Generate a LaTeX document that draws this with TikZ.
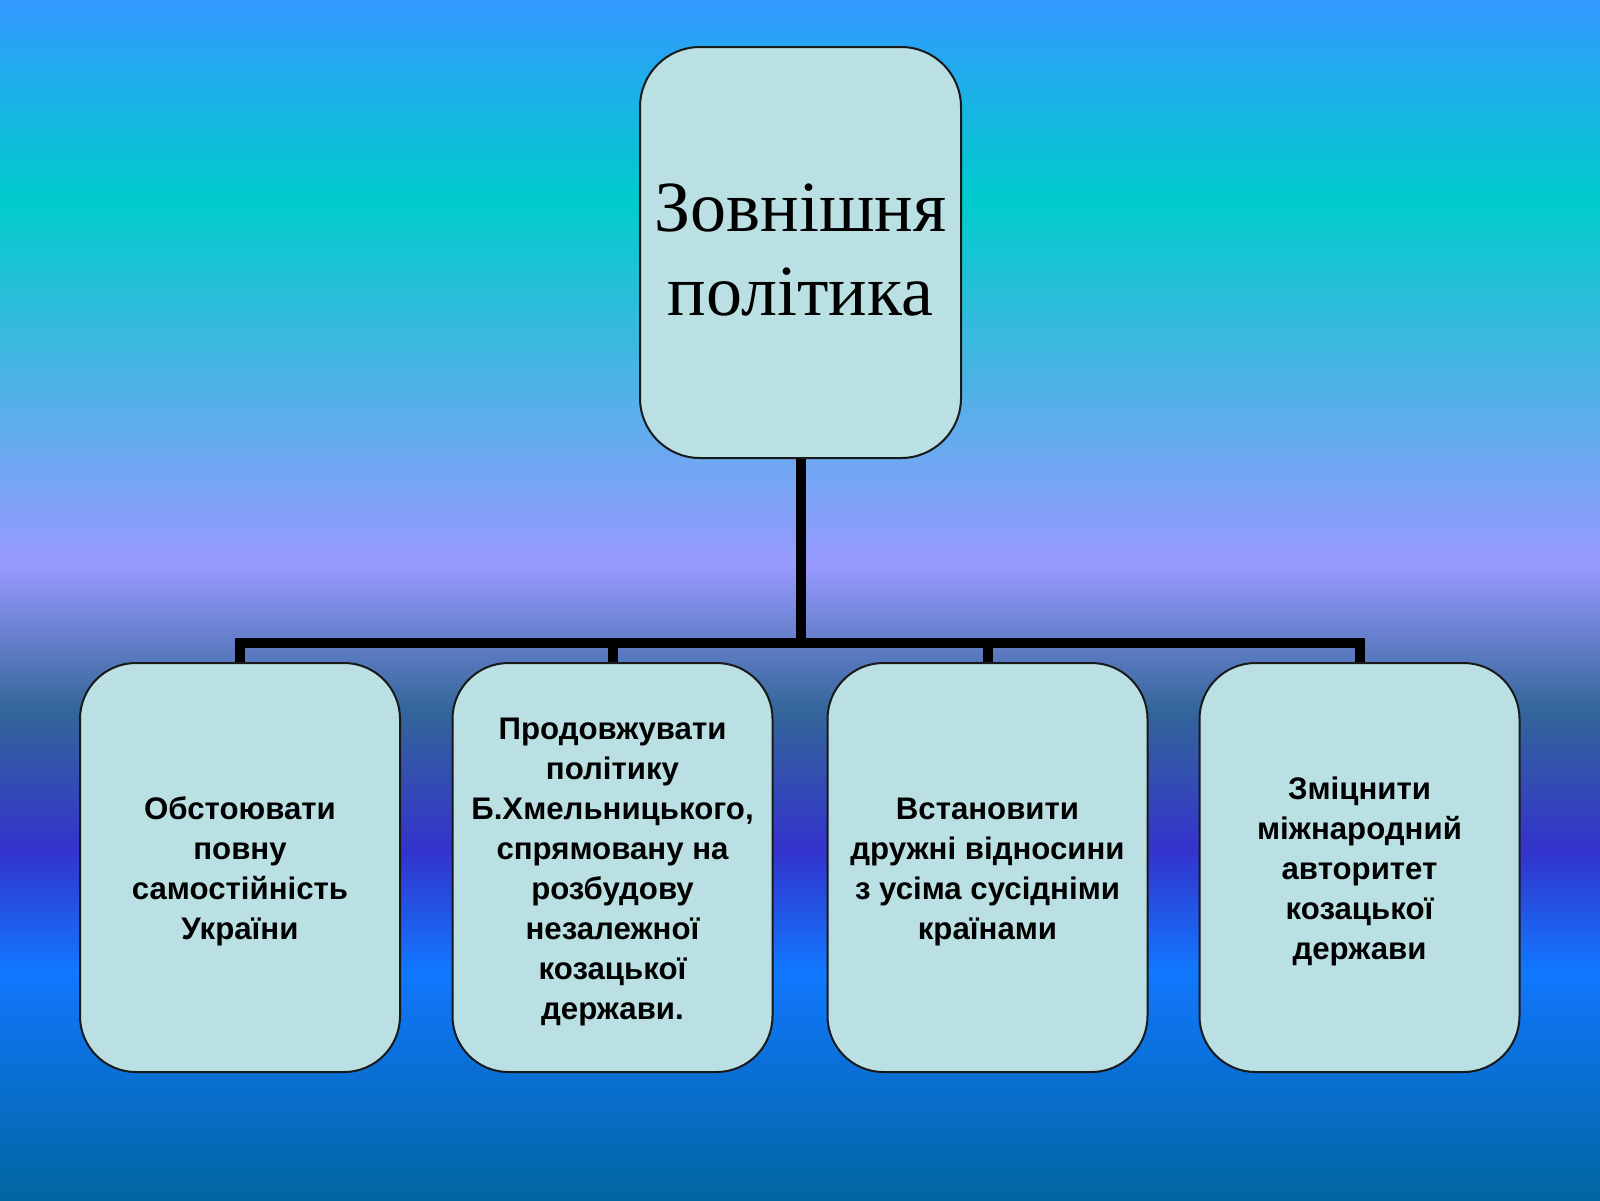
\documentclass[tikz,border=0pt]{standalone}
\usepackage{fontspec}
\setmainfont{Liberation Serif}
\newfontfamily\arialfont{Liberation Sans}
\definecolor{bgA}{HTML}{3399FF}
\definecolor{bgB}{HTML}{00CCCC}
\definecolor{bgC}{HTML}{9999FF}
\definecolor{bgD}{HTML}{336699}
\definecolor{bgE}{HTML}{3333CC}
\definecolor{bgF}{HTML}{1177FF}
\definecolor{bgG}{HTML}{0066A0}
\definecolor{boxfill}{HTML}{BBE0E3}
\pgfdeclareverticalshading{bgshade}{100bp}{color(0bp)=(bgG); color(25bp)=(bgG); color(34.58bp)=(bgF); color(39.58bp)=(bgE); color(45.42bp)=(bgD); color(51.46bp)=(bgC); color(66.67bp)=(bgB); color(75bp)=(bgA); color(100bp)=(bgA)}
\newcommand{\firstfix}{\rule{0pt}{15.3pt}}
\newcommand{\lastfix}{\rule[-3pt]{0pt}{3pt}}
\tikzset{
  topbox/.style={draw=black!90, line width=1pt, fill=boxfill, rounded corners=30pt,
    minimum width=160.5pt, minimum height=205.5pt, align=center, inner sep=0pt,
    font=\fontsize{36}{42}\selectfont},
  subbox/.style={draw=black!90, line width=1pt, fill=boxfill, rounded corners=28pt,
    minimum width=160pt, minimum height=204.5pt, align=center, inner sep=0pt,
    font=\arialfont\bfseries\fontsize{15.6}{20}\selectfont},
  conn/.style={line width=5pt, black, line join=miter}
}
\begin{document}
\begin{tikzpicture}[x=0.5pt, y=-0.5pt]
\useasboundingbox (0,0) rectangle (1600,1200);
\shade[shading=bgshade] (0,0) rectangle (1600,1200);
\node[topbox] (top) at (800.5,252.5) {Зовнішня\\політика\lastfix};
\node[subbox] (b1) at (240,867.5) {\firstfix Обстоювати\\повну\\самостійність\\України};
\node[subbox] (b2) at (612.5,867.5) {\firstfix Продовжувати\\політику\\Б.Хмельницького,\\спрямовану на\\розбудову\\незалежної\\козацької\\держави.};
\node[subbox] (b3) at (987.5,867.5) {\firstfix Встановити\\дружні відносини\\з усіма сусідніми\\країнами};
\node[subbox] (b4) at (1359.5,867.5) {\firstfix Зміцнити\\міжнародний\\авторитет\\козацької\\держави};
\coordinate (bar) at (800,643);
\draw[conn] (b1.north) -- (b1.north |- bar) -- (b4.north |- bar) -- (b4.north);
\draw[conn] (top.south) -- (top.south |- bar);
\draw[conn] (b2.north |- bar) -- (b2.north);
\draw[conn] (b3.north |- bar) -- (b3.north);
\end{tikzpicture}
\end{document}
